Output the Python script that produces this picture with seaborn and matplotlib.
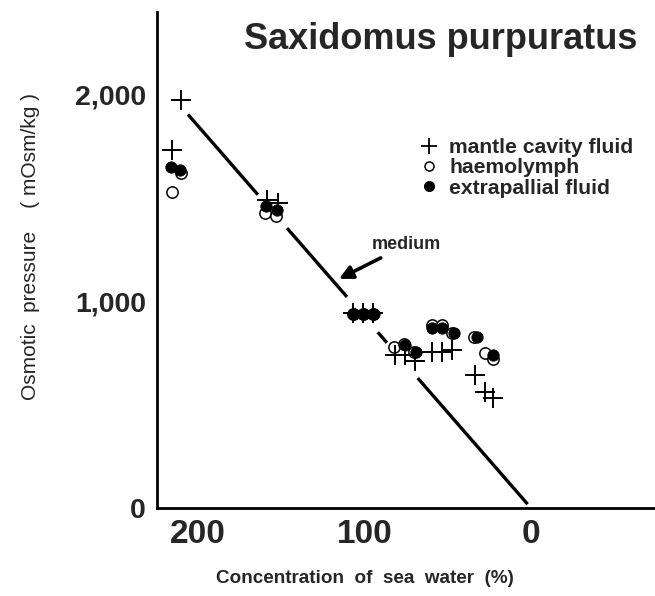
import matplotlib
matplotlib.use("Agg")
import matplotlib.pyplot as plt
from matplotlib.lines import Line2D
import seaborn as sns
import pandas as pd

sns.set_style("white")
plt.rcParams["font.family"] = ["Liberation Sans", "DejaVu Sans"]

# Concentration of sea water (%) and osmotic pressure (mOsm/kg)
mantle_x = [210, 215.5, 158.5, 152, 107, 101, 95, 81.5, 75.5, 69.5, 59.5, 53.5, 47.5, 33.5, 27.5, 23]
mantle_y = [1975, 1735, 1490, 1478, 945, 945, 945, 740, 742, 710, 755, 755, 765, 645, 563, 533]

haemo_x = [215.5, 210, 159.5, 153, 107, 101, 95, 82, 76, 70, 59.5, 53.5, 47.5, 34, 27.5, 23]
haemo_y = [1530, 1620, 1430, 1415, 940, 940, 940, 780, 795, 755, 886, 886, 848, 830, 750, 720]

extra_x = [216, 210.5, 159, 152.5, 106.5, 100.5, 94.5, 75.5, 69, 59.5, 53.5, 46.5, 32.5, 22.5]
extra_y = [1650, 1635, 1460, 1445, 940, 940, 940, 790, 755, 872, 872, 848, 830, 740]

# Sea water (medium) line: osmotic pressure proportional to concentration,
# broken where the sample points sit on it
medium_slope = 9.25
medium_segments = [(206, 164), (146.5, 110.5), (92, 86.5), (68, 2)]

fig = plt.figure(figsize=(6.55, 5.96), dpi=100)
ax = fig.add_axes([0.2397, 0.1477, 0.7603, 0.8323])

for x0, x1 in medium_segments:
    seg = pd.DataFrame({"x": [x0, x1], "y": [medium_slope * x0, medium_slope * x1]})
    sns.lineplot(data=seg, x="x", y="y", ax=ax, color="black", linewidth=2.4,
                 solid_capstyle="butt", sort=False)

df_h = pd.DataFrame({"x": haemo_x, "y": haemo_y})
df_e = pd.DataFrame({"x": extra_x, "y": extra_y})
df_m = pd.DataFrame({"x": mantle_x, "y": mantle_y})

sns.scatterplot(data=df_h, x="x", y="y", ax=ax, marker="o", s=66,
                facecolor="white", edgecolor="black", linewidth=1.1, zorder=3)
sns.scatterplot(data=df_e, x="x", y="y", ax=ax, marker="o", s=68,
                color="black", edgecolor="black", linewidth=0.5, zorder=4)
sns.scatterplot(data=df_m, x="x", y="y", ax=ax, marker="+", s=190,
                color="black", linewidth=1.4, zorder=5)

ax.set_xlim(224.6, -74.5)
ax.set_ylim(0, 2402)
ax.set_xticks([200, 100, 0])
ax.set_xticklabels(["200", "100", "0"])
ax.set_yticks([0, 1000, 2000])
ax.set_yticklabels(["0", "1,000", "2,000"])
ax.tick_params(axis="both", direction="out", length=6, width=2, color="black", pad=2)
ax.tick_params(axis="x", labelsize=24)
ax.tick_params(axis="y", labelsize=20.5)
for lab in ax.get_xticklabels() + ax.get_yticklabels():
    lab.set_fontweight("bold")

for side in ["top", "right"]:
    ax.spines[side].set_visible(False)
for side in ["left", "bottom"]:
    ax.spines[side].set_color("black")
    ax.spines[side].set_linewidth(2)

ax.set_xlabel("")
ax.set_ylabel("")
fig.text(0.557, 0.03, "Concentration  of  sea  water  (%)", ha="center", va="center",
         fontsize=13.6, fontweight="bold")
fig.text(0.046, 0.587, "Osmotic  pressure    ( mOsm/kg )", ha="center", va="center",
         rotation=90, fontsize=15)

ax.text(0.57, 0.945, "Saxidomus purpuratus", transform=ax.transAxes, ha="center",
        va="center", fontsize=26, fontweight="bold")

ax.annotate("medium", xy=(115.3, 1109), xytext=(95.5, 1274),
            fontsize=13, fontweight="bold", ha="left", va="center",
            arrowprops=dict(arrowstyle="-|>", color="black", lw=2.6,
                            mutation_scale=20, shrinkA=2, shrinkB=0))

handles = [
    Line2D([], [], marker="+", linestyle="none", color="black", markersize=12, markeredgewidth=1.3),
    Line2D([], [], marker="o", linestyle="none", markerfacecolor="white",
           markeredgecolor="black", markersize=6.5, markeredgewidth=1.1),
    Line2D([], [], marker="o", linestyle="none", color="black", markersize=7),
]
labels = ["mantle cavity fluid", "haemolymph", "extrapallial fluid"]
leg = ax.legend(handles, labels, loc="upper left", bbox_to_anchor=(0.508, 0.762),
                frameon=False, handlelength=1.0, handletextpad=0.45,
                labelspacing=0.05, borderaxespad=0,
                prop=dict(weight="bold", size=15.2))

fig.savefig("out.png", dpi=100, facecolor="white")
